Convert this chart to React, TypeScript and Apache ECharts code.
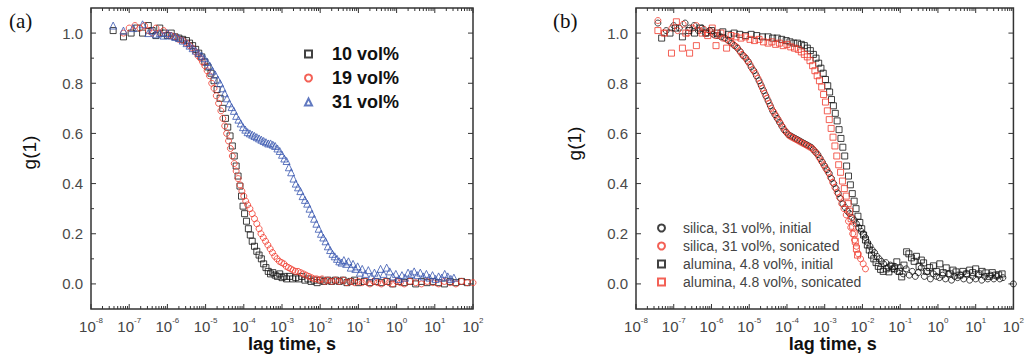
import React, { useEffect, useRef } from 'react';
import * as echarts from 'echarts';

// ---------- data: [log10(lag time / s), g(1)] ----------
const vol10: [number, number][] = [
[-7.42,1.01],[-7.15,0.985],[-6.95,1.0],[-6.8,1.02],[-6.65,1.0],[-6.5,1.03],[-6.4,1.01],[-6.3,0.99],[-6.2,1.02],[-6.1,1.0],[-6.0,0.99],[-5.9,1.0],[-5.8,0.985],[-5.7,0.98],[-5.6,0.975],[-5.5,0.97],[-5.42,0.96],[-5.34,0.95],[-5.26,0.935],[-5.18,0.92],[-5.1,0.905],[-5.02,0.885],[-4.94,0.865],[-4.86,0.84],[-4.78,0.81],[-4.7,0.775],[-4.62,0.74],[-4.55,0.70],[-4.48,0.66],[-4.42,0.625],[-4.36,0.59],[-4.3,0.55],[-4.25,0.51],[-4.2,0.47],[-4.15,0.43],[-4.1,0.39],[-4.06,0.35],[-4.02,0.31],[-3.98,0.28],[-3.93,0.25],[-3.88,0.22],[-3.83,0.195],[-3.78,0.17],[-3.72,0.15],[-3.66,0.13],[-3.6,0.115],[-3.54,0.1],[-3.48,0.08],[-3.42,0.065],[-3.36,0.05],[-3.3,0.04],[-3.24,0.045],[-3.18,0.035],[-3.12,0.03],[-3.06,0.04],[-3.0,0.025],[-2.94,0.03],[-2.88,0.02],[-2.8,0.03],[-2.72,0.02],[-2.64,0.025],[-2.56,0.02],[-2.48,0.03],[-2.4,0.015],[-2.32,0.02],[-2.24,0.01],[-2.16,0.015],[-2.08,0.005],[-2.0,0.015],[-1.9,0.01],[-1.8,0.015],[-1.7,0.01],[-1.6,0.015],[-1.5,0.01],[-1.4,0.015],[-1.3,0.005],[-1.2,0.01],[-1.1,0.015],[-1.0,0.005],[-0.85,0.01],[-0.7,0.005],[-0.55,0.01],[-0.4,0.005],[-0.25,0.01],[-0.1,0.0],[0.05,0.01],[0.2,0.005],[0.35,0.01],[0.5,0.0],[0.65,0.01],[0.8,0.005],[0.95,0.01],[1.1,0.005],[1.25,0.0],[1.4,0.01],[1.55,0.005],[1.7,0.01],[1.85,0.005]
];

const vol19: [number, number][] = [
[-7.15,1.0],[-7.0,1.02],[-6.85,1.03],[-6.72,1.02],[-6.6,1.03],[-6.5,1.01],[-6.4,1.0],[-6.3,1.02],[-6.2,1.0],[-6.1,1.01],[-6.0,0.995],[-5.9,0.99],[-5.8,0.985],[-5.7,0.975],[-5.6,0.97],[-5.5,0.96],[-5.42,0.95],[-5.34,0.94],[-5.26,0.925],[-5.2,0.91],[-5.14,0.9],[-5.08,0.885],[-5.02,0.87],[-4.96,0.85],[-4.9,0.83],[-4.84,0.80],[-4.78,0.78],[-4.72,0.75],[-4.66,0.72],[-4.6,0.69],[-4.55,0.66],[-4.5,0.63],[-4.45,0.60],[-4.4,0.57],[-4.35,0.54],[-4.3,0.51],[-4.25,0.48],[-4.2,0.45],[-4.15,0.42],[-4.1,0.395],[-4.05,0.37],[-4.0,0.35],[-3.95,0.33],[-3.9,0.315],[-3.84,0.3],[-3.78,0.28],[-3.72,0.26],[-3.66,0.24],[-3.6,0.22],[-3.55,0.2],[-3.49,0.185],[-3.43,0.17],[-3.37,0.155],[-3.31,0.14],[-3.25,0.125],[-3.19,0.11],[-3.13,0.1],[-3.07,0.09],[-3.01,0.085],[-2.95,0.08],[-2.89,0.07],[-2.83,0.065],[-2.77,0.06],[-2.71,0.055],[-2.65,0.05],[-2.58,0.05],[-2.51,0.045],[-2.44,0.04],[-2.37,0.035],[-2.3,0.03],[-2.23,0.025],[-2.16,0.02],[-2.09,0.02],[-2.02,0.015],[-1.95,0.02],[-1.88,0.01],[-1.8,0.015],[-1.7,0.01],[-1.6,0.015],[-1.5,0.01],[-1.4,0.015],[-1.3,0.005],[-1.2,0.01],[-1.1,0.005],[-1.0,0.01],[-0.9,0.005],[-0.8,0.01],[-0.7,0.0],[-0.6,0.01],[-0.5,0.005],[-0.4,0.0],[-0.3,0.01],[-0.2,0.005],[-0.1,0.0],[0.0,0.01],[0.1,0.005],[0.2,0.0],[0.35,0.01],[0.5,0.005],[0.65,0.0],[0.8,0.01],[0.95,0.005],[1.1,0.0],[1.25,0.01],[1.4,0.005],[1.55,0.0],[1.7,0.01],[1.85,0.005],[2.0,0.005]
];

const vol31: [number, number][] = [
[-7.42,1.03],[-7.15,1.01],[-6.9,1.02],[-6.65,1.035],[-6.5,1.0],[-6.4,1.01],[-6.3,0.995],[-6.2,1.0],[-6.1,0.99],[-6.0,1.0],[-5.9,0.99],[-5.8,0.985],[-5.7,0.98],[-5.6,0.97],[-5.5,0.96],[-5.42,0.95],[-5.34,0.94],[-5.26,0.93],[-5.18,0.92],[-5.1,0.91],[-5.03,0.9],[-4.96,0.885],[-4.89,0.87],[-4.82,0.85],[-4.75,0.835],[-4.68,0.815],[-4.62,0.8],[-4.56,0.78],[-4.5,0.76],[-4.44,0.74],[-4.38,0.72],[-4.32,0.705],[-4.26,0.69],[-4.2,0.67],[-4.14,0.655],[-4.08,0.64],[-4.02,0.625],[-3.96,0.615],[-3.9,0.605],[-3.84,0.6],[-3.78,0.595],[-3.72,0.59],[-3.66,0.585],[-3.6,0.58],[-3.54,0.575],[-3.48,0.57],[-3.42,0.565],[-3.36,0.56],[-3.3,0.56],[-3.24,0.555],[-3.18,0.55],[-3.12,0.54],[-3.06,0.53],[-3.0,0.515],[-2.94,0.5],[-2.88,0.49],[-2.82,0.465],[-2.76,0.445],[-2.7,0.42],[-2.64,0.4],[-2.58,0.385],[-2.52,0.37],[-2.46,0.35],[-2.4,0.335],[-2.34,0.32],[-2.28,0.3],[-2.22,0.28],[-2.16,0.26],[-2.1,0.24],[-2.04,0.22],[-1.98,0.2],[-1.92,0.185],[-1.86,0.17],[-1.8,0.15],[-1.74,0.135],[-1.68,0.12],[-1.62,0.11],[-1.56,0.1],[-1.5,0.09],[-1.44,0.085],[-1.38,0.095],[-1.32,0.08],[-1.26,0.09],[-1.2,0.065],[-1.14,0.08],[-1.08,0.06],[-1.02,0.07],[-0.96,0.045],[-0.9,0.06],[-0.82,0.04],[-0.74,0.055],[-0.66,0.03],[-0.58,0.045],[-0.5,0.035],[-0.42,0.06],[-0.34,0.04],[-0.26,0.065],[-0.18,0.05],[-0.1,0.03],[-0.02,0.04],[0.06,0.02],[0.14,0.035],[0.22,0.025],[0.3,0.045],[0.38,0.04],[0.46,0.05],[0.54,0.035],[0.62,0.045],[0.7,0.03],[0.78,0.04],[0.86,0.025],[0.94,0.035],[1.02,0.02],[1.1,0.03],[1.18,0.025],[1.26,0.04],[1.34,0.03],[1.42,0.02],[1.5,0.025]
];

const silicaInitial: [number, number][] = [
[-7.42,1.04],[-7.2,1.01],[-7.0,1.03],[-6.85,1.02],[-6.7,1.04],[-6.58,1.02],[-6.46,1.03],[-6.35,1.01],[-6.25,1.02],[-6.15,1.0],[-6.05,1.01],[-5.95,0.995],[-5.85,0.99],[-5.75,0.985],[-5.65,0.98],[-5.55,0.97],[-5.47,0.96],[-5.39,0.95],[-5.31,0.94],[-5.23,0.925],[-5.16,0.91],[-5.09,0.9],[-5.02,0.885],[-4.95,0.865],[-4.88,0.85],[-4.81,0.83],[-4.74,0.81],[-4.68,0.79],[-4.62,0.77],[-4.56,0.75],[-4.5,0.73],[-4.44,0.71],[-4.38,0.69],[-4.32,0.675],[-4.26,0.66],[-4.2,0.645],[-4.14,0.63],[-4.08,0.615],[-4.02,0.605],[-3.96,0.595],[-3.9,0.59],[-3.84,0.585],[-3.78,0.58],[-3.72,0.575],[-3.66,0.57],[-3.6,0.565],[-3.54,0.56],[-3.48,0.555],[-3.42,0.55],[-3.36,0.545],[-3.3,0.535],[-3.24,0.525],[-3.18,0.515],[-3.12,0.5],[-3.06,0.485],[-3.0,0.47],[-2.94,0.455],[-2.88,0.44],[-2.82,0.42],[-2.76,0.4],[-2.7,0.38],[-2.64,0.36],[-2.58,0.34],[-2.52,0.32],[-2.46,0.305],[-2.4,0.29],[-2.34,0.28],[-2.28,0.265],[-2.22,0.255],[-2.16,0.24],[-2.1,0.225],[-2.04,0.21],[-1.98,0.2],[-1.92,0.185],[-1.86,0.165],[-1.8,0.15],[-1.74,0.135],[-1.68,0.125],[-1.62,0.11],[-1.56,0.1],[-1.5,0.09],[-1.44,0.08],[-1.38,0.085],[-1.32,0.065],[-1.26,0.075],[-1.2,0.06],[-1.14,0.07],[-1.08,0.05],[-1.0,0.065],[-0.92,0.04],[-0.84,0.06],[-0.76,0.035],[-0.68,0.05],[-0.6,0.03],[-0.52,0.045],[-0.44,0.065],[-0.36,0.03],[-0.28,0.05],[-0.2,0.02],[-0.12,0.04],[-0.04,0.03],[0.04,0.025],[0.12,0.035],[0.2,0.02],[0.28,0.04],[0.36,0.015],[0.44,0.03],[0.52,0.025],[0.6,0.035],[0.68,0.02],[0.76,0.04],[0.84,0.015],[0.92,0.03],[1.0,0.02],[1.08,0.035],[1.16,0.015],[1.24,0.03],[1.32,0.02],[1.4,0.035],[1.48,0.02],[1.56,0.03],[1.64,0.02],[1.72,0.025],[2.0,0.0]
];

const silicaSonicated: [number, number][] = [
[-7.42,1.05],[-7.25,1.0],[-7.05,1.02],[-6.9,1.01],[-6.75,1.035],[-6.62,1.0],[-6.5,1.02],[-6.4,1.03],[-6.3,1.01],[-6.2,1.015],[-6.1,1.0],[-6.0,1.005],[-5.9,0.99],[-5.8,0.99],[-5.7,0.98],[-5.6,0.975],[-5.5,0.965],[-5.42,0.955],[-5.34,0.945],[-5.26,0.93],[-5.19,0.915],[-5.12,0.905],[-5.05,0.89],[-4.98,0.875],[-4.91,0.855],[-4.84,0.84],[-4.77,0.82],[-4.71,0.8],[-4.65,0.78],[-4.59,0.76],[-4.53,0.74],[-4.47,0.72],[-4.41,0.7],[-4.35,0.685],[-4.29,0.67],[-4.23,0.655],[-4.17,0.64],[-4.11,0.625],[-4.05,0.61],[-3.99,0.6],[-3.93,0.59],[-3.87,0.585],[-3.81,0.58],[-3.75,0.575],[-3.69,0.57],[-3.63,0.565],[-3.57,0.56],[-3.51,0.555],[-3.45,0.55],[-3.39,0.545],[-3.33,0.54],[-3.27,0.53],[-3.21,0.52],[-3.15,0.505],[-3.09,0.49],[-3.03,0.475],[-2.97,0.46],[-2.91,0.445],[-2.85,0.425],[-2.79,0.405],[-2.73,0.385],[-2.67,0.365],[-2.61,0.345],[-2.55,0.32],[-2.49,0.3],[-2.43,0.275],[-2.37,0.25],[-2.31,0.225],[-2.26,0.2],[-2.21,0.175],[-2.16,0.15],[-2.11,0.12],[-2.05,0.1],[-1.98,0.08],[-1.92,0.06]
];

const aluminaInitial: [number, number][] = [
[-7.32,0.98],[-7.1,1.0],[-6.95,1.02],[-6.77,0.985],[-6.6,1.01],[-6.45,1.0],[-6.3,1.02],[-6.15,1.0],[-6.0,1.01],[-5.85,1.0],[-5.7,1.005],[-5.55,0.995],[-5.4,1.0],[-5.25,0.995],[-5.1,0.99],[-4.95,0.995],[-4.8,0.99],[-4.65,0.985],[-4.5,0.985],[-4.38,0.98],[-4.26,0.98],[-4.14,0.975],[-4.02,0.97],[-3.92,0.965],[-3.82,0.96],[-3.72,0.96],[-3.62,0.955],[-3.54,0.95],[-3.46,0.94],[-3.38,0.93],[-3.3,0.915],[-3.23,0.9],[-3.16,0.88],[-3.1,0.86],[-3.04,0.84],[-2.98,0.815],[-2.92,0.79],[-2.87,0.765],[-2.82,0.735],[-2.77,0.71],[-2.72,0.68],[-2.67,0.65],[-2.62,0.615],[-2.57,0.58],[-2.52,0.545],[-2.47,0.51],[-2.42,0.47],[-2.37,0.43],[-2.32,0.395],[-2.27,0.36],[-2.22,0.33],[-2.17,0.3],[-2.12,0.27],[-2.07,0.245],[-2.02,0.22],[-1.97,0.195],[-1.92,0.175],[-1.87,0.155],[-1.82,0.135],[-1.76,0.115],[-1.7,0.1],[-1.64,0.085],[-1.58,0.07],[-1.52,0.058],[-1.45,0.05],[-1.37,0.06],[-1.3,0.048],[-1.22,0.07],[-1.15,0.06],[-1.09,0.088],[-1.02,0.05],[-0.96,0.028],[-0.9,0.075],[-0.83,0.128],[-0.77,0.12],[-0.7,0.104],[-0.63,0.09],[-0.57,0.11],[-0.5,0.07],[-0.44,0.095],[-0.38,0.084],[-0.3,0.05],[-0.22,0.065],[-0.12,0.072],[-0.04,0.05],[0.05,0.08],[0.14,0.045],[0.22,0.064],[0.32,0.04],[0.4,0.055],[0.48,0.048],[0.58,0.035],[0.66,0.05],[0.76,0.04],[0.84,0.055],[0.92,0.045],[1.0,0.06],[1.08,0.04],[1.17,0.05],[1.27,0.044],[1.36,0.03],[1.44,0.045],[1.53,0.035],[1.61,0.036],[1.7,0.04]
];

const aluminaSonicated: [number, number][] = [
[-7.42,1.01],[-7.25,1.0],[-7.06,0.92],[-6.93,1.045],[-6.77,0.94],[-6.68,1.0],[-6.58,0.92],[-6.4,0.95],[-6.25,1.0],[-6.1,0.99],[-5.98,1.02],[-5.88,0.95],[-5.75,1.0],[-5.6,0.94],[-5.48,0.99],[-5.35,0.985],[-5.22,0.98],[-5.1,0.985],[-4.98,0.975],[-4.86,0.97],[-4.74,0.975],[-4.62,0.965],[-4.5,0.96],[-4.4,0.965],[-4.3,0.955],[-4.2,0.96],[-4.1,0.95],[-4.0,0.955],[-3.9,0.945],[-3.8,0.94],[-3.7,0.935],[-3.62,0.925],[-3.54,0.915],[-3.46,0.905],[-3.39,0.89],[-3.32,0.87],[-3.26,0.85],[-3.2,0.83],[-3.14,0.81],[-3.08,0.785],[-3.03,0.755],[-2.98,0.725],[-2.93,0.69],[-2.88,0.655],[-2.83,0.62],[-2.78,0.585],[-2.73,0.55],[-2.68,0.51],[-2.63,0.475],[-2.58,0.445],[-2.53,0.41],[-2.48,0.38],[-2.43,0.35],[-2.38,0.32],[-2.34,0.29],[-2.3,0.26],[-2.26,0.23],[-2.22,0.2],[-2.19,0.17],[-2.16,0.14],[-2.13,0.115]
];

// ---------- axes ----------
const xDecades = [-8, -7, -6, -5, -4, -3, -2, -1, 0, 1, 2];
const xMinorMultipliers = [2, 3, 4, 5, 6, 7, 8, 9];
const yMajorTicks = [0, 0.2, 0.4, 0.6, 0.8, 1.0];
const yMinorTicks = [0.1, 0.3, 0.5, 0.7, 0.9];
const X_MIN = 1e-8;
const X_MAX = 1e2;
const Y_MIN = -0.1;
const Y_MAX = 1.1;

const BLACK = '#111111';
const RED = '#f0392c';
const BLUE = '#3a58b0';
const FONT = '"Liberation Sans", Arial, sans-serif';

const toPoints = (arr: [number, number][]) => arr.map(([lx, y]) => [Math.pow(10, lx), y]);

function tickItems() {
  const items: number[][] = [];
  xDecades.forEach((d) => items.push([Math.pow(10, d), Y_MIN, 0, 5]));
  xDecades.slice(0, -1).forEach((d) =>
    xMinorMultipliers.forEach((m) => items.push([m * Math.pow(10, d), Y_MIN, 0, 3]))
  );
  yMajorTicks.forEach((v) => items.push([X_MIN, v, 1, 5]));
  yMinorTicks.forEach((v) => items.push([X_MIN, v, 1, 3]));
  return items;
}

function tickSeries(idx: number) {
  return {
    type: 'custom',
    name: 'ticks' + idx,
    xAxisIndex: idx,
    yAxisIndex: idx,
    silent: true,
    clip: false,
    z: 10,
    encode: { x: 0, y: 1 },
    data: tickItems(),
    renderItem: (_p: any, api: any) => {
      const v0 = api.value(0);
      const v1 = api.value(1);
      const kind = api.value(2);
      const len = api.value(3);
      const st = { stroke: '#333', lineWidth: 1 };
      if (kind === 0) {
        const b = api.coord([v0, Y_MIN]);
        const t = api.coord([v0, Y_MAX]);
        return {
          type: 'group',
          children: [
            { type: 'line', shape: { x1: b[0], y1: b[1], x2: b[0], y2: b[1] - len }, style: st },
            { type: 'line', shape: { x1: t[0], y1: t[1], x2: t[0], y2: t[1] + len }, style: st },
          ],
        };
      }
      const l = api.coord([X_MIN, v1]);
      const r = api.coord([X_MAX, v1]);
      return {
        type: 'group',
        children: [
          { type: 'line', shape: { x1: l[0], y1: l[1], x2: l[0] + len, y2: l[1] }, style: st },
          { type: 'line', shape: { x1: r[0], y1: r[1], x2: r[0] - len, y2: r[1] }, style: st },
        ],
      };
    },
  };
}

function xAxis(idx: number, shift: number) {
  return {
    type: 'log',
    logBase: 10,
    gridIndex: idx,
    min: X_MIN,
    max: X_MAX,
    interval: 1,
    splitNumber: 10,
    axisLine: { show: false },
    axisTick: { show: false },
    splitLine: { show: false },
    axisLabel: {
      margin: 7,
      color: '#444',
      fontFamily: FONT,
      formatter: (v: number) => `{b|10}{e|${Math.round(Math.log10(v))}}`,
      rich: {
        b: { fontSize: 15, fontFamily: FONT, color: '#444', lineHeight: 20, verticalAlign: 'middle' },
        e: { fontSize: 8, fontFamily: FONT, color: '#444', lineHeight: 10, verticalAlign: 'top' },
      },
    },
    name: 'lag time, s',
    nameLocation: 'middle',
    nameGap: 26,
    nameMoveOverlap: false,
    nameTextStyle: {
      fontFamily: FONT,
      fontSize: 18,
      fontWeight: 'bold',
      color: '#111',
      padding: [0, 0, 0, shift],
    },
  };
}

function yAxis(idx: number, shift: number) {
  return {
    type: 'value',
    gridIndex: idx,
    min: Y_MIN,
    max: Y_MAX,
    interval: 0.1,
    axisLine: { show: false },
    axisTick: { show: false },
    splitLine: { show: false },
    axisLabel: {
      margin: 8,
      fontSize: 15,
      fontFamily: FONT,
      color: '#4a4a4a',
      formatter: (v: number) => {
        const t = Math.round(v * 10);
        return t % 2 === 0 && t >= 0 && t <= 10 ? (t / 10).toFixed(1) : '';
      },
    },
    name: 'g(1)',
    nameLocation: 'middle',
    nameRotate: 90,
    nameGap: 52,
    nameTextStyle: {
      fontFamily: FONT,
      fontSize: 19,
      color: '#111',
      padding: [0, 0, 0, shift],
    },
  };
}

function scatter(name: string, data: [number, number][], idx: number, symbol: string, color: string, size: number) {
  return {
    type: 'scatter',
    name,
    xAxisIndex: idx,
    yAxisIndex: idx,
    symbol,
    symbolSize: size,
    data: toPoints(data),
    itemStyle: { color: 'rgba(255,255,255,0)', borderColor: color, borderWidth: 1 },
  };
}

export default function App() {
  const ref = useRef<HTMLDivElement>(null);
  useEffect(() => {
    if (!ref.current) return;
    const chart = echarts.init(ref.current, undefined, { renderer: 'svg' });
    const gridBase = { top: 8, width: 382, height: 301, show: true, borderColor: '#333', borderWidth: 1.5, backgroundColor: 'transparent', containLabel: false };
    chart.setOption({
      animation: false,
      backgroundColor: '#fff',
      grid: [
        { ...gridBase, left: 91 },
        { ...gridBase, left: 636 },
      ],
      xAxis: [xAxis(0, 20), xAxis(1, 16)],
      yAxis: [yAxis(0, 12), yAxis(1, 30)],
      legend: [
        {
          data: ['10 vol%', '19 vol%', '31 vol%'],
          orient: 'vertical',
          left: 299,
          top: 39,
          itemWidth: 7,
          itemHeight: 7,
          itemGap: 4,
          selectedMode: false,
          textStyle: { fontFamily: FONT, fontSize: 18, fontWeight: 'bold', color: '#111', lineHeight: 20, padding: [0, 0, 0, 15] },
        },
        {
          data: ['silica, 31 vol%, initial', 'silica, 31 vol%, sonicated', 'alumina, 4.8 vol%, initial', 'alumina, 4.8 vol%, sonicated'],
          orient: 'vertical',
          left: 652,
          top: 214,
          itemWidth: 7,
          itemHeight: 7,
          itemGap: 0,
          selectedMode: false,
          textStyle: { fontFamily: FONT, fontSize: 14, color: '#444', lineHeight: 18, padding: [0, 0, 0, 13] },
        },
      ],
      graphic: [
        { type: 'text', left: 9, top: 10, style: { text: '(a)', font: '21px "Liberation Serif", "Times New Roman", serif', fill: '#111' } },
        { type: 'text', left: 553, top: 10, style: { text: '(b)', font: '21px "Liberation Serif", "Times New Roman", serif', fill: '#111' } },
      ],
      series: [
        scatter('10 vol%', vol10, 0, 'rect', BLACK, 6),
        scatter('19 vol%', vol19, 0, 'circle', RED, 6),
        scatter('31 vol%', vol31, 0, 'triangle', BLUE, 7),
        scatter('silica, 31 vol%, initial', silicaInitial, 1, 'circle', BLACK, 6),
        scatter('silica, 31 vol%, sonicated', silicaSonicated, 1, 'circle', RED, 6),
        scatter('alumina, 4.8 vol%, initial', aluminaInitial, 1, 'rect', BLACK, 6),
        scatter('alumina, 4.8 vol%, sonicated', aluminaSonicated, 1, 'rect', RED, 6),
        tickSeries(0),
        tickSeries(1),
      ],
    });
    return () => chart.dispose();
  }, []);
  return <div ref={ref} style={{ position: 'absolute', left: 0, top: 0, width: 1027, height: 360 }} />;
}
